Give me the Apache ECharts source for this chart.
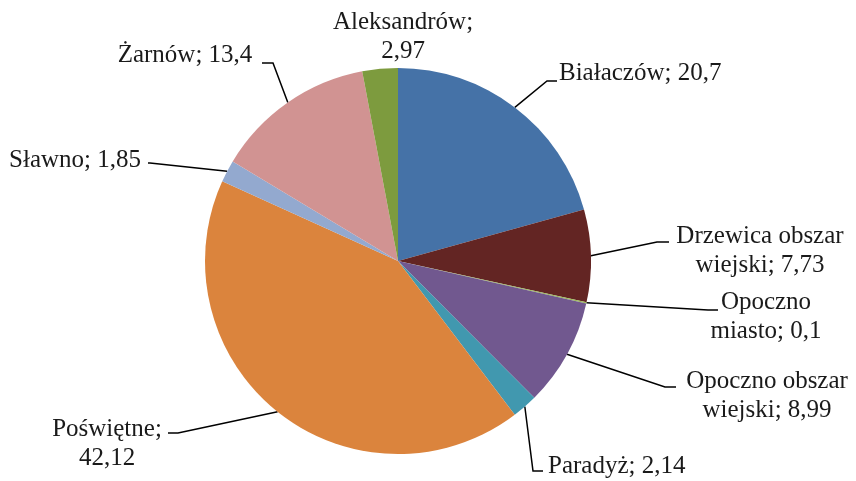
<!DOCTYPE html>
<html><head><meta charset="utf-8">
<script src="https://cdn.jsdelivr.net/npm/echarts@6/dist/echarts.min.js"></script>
<style>html,body{margin:0;padding:0;background:#fff}#c{width:856px;height:481px}</style>
</head><body><div id="c"></div>
<script>
const categories = ['Białaczów', 'Drzewica obszar\nwiejski', 'Opoczno\nmiasto', 'Opoczno obszar\nwiejski', 'Paradyż', 'Poświętne;\n', 'Sławno', 'Żarnów', 'Aleksandrów;\n'];
const names = ['Białaczów', 'Drzewica obszar wiejski', 'Opoczno miasto', 'Opoczno obszar wiejski', 'Paradyż', 'Poświętne', 'Sławno', 'Żarnów', 'Aleksandrów'];
const values = [20.7, 7.73, 0.1, 8.99, 2.14, 42.12, 1.85, 13.4, 2.97];
const colors = ['#4572A7', '#632523', '#9BBB59', '#71588F', '#4198AF', '#DB843D', '#93A9CF', '#D19392', '#7D9B3E'];

// label placement: [x, y, align, bend point x, bend y, end x]
const labelPos = [
  [559, 73, 'left', 547, 81, 557],
  [760, 251, 'center', 657, 242, 669],
  [766, 317, 'center', 708, 310, 718],
  [767, 396, 'center', 665, 387, 676],
  [548, 466, 'left', 533, 471, 543],
  [107, 444, 'center', 178, 433, 168],
  [75, 160, 'center', 150, 163, 148],
  [185, 55, 'center', 273, 63, 262],
  [403, 37, 'center', null, null, null]
];

function fmt(v){ return String(v).replace('.', ','); }

const chart = echarts.init(document.getElementById('c'));
chart.setOption({
  animation: false,
  series: [{
    type: 'pie',
    center: [398, 261],
    radius: 193,
    startAngle: 90,
    clockwise: true,
    data: names.map((n, i) => ({name: n, value: values[i], itemStyle: {color: colors[i]}})),
    label: {
      show: true,
      color: '#1a1a1a',
      fontFamily: 'Liberation Serif',
      fontSize: 25,
      lineHeight: 29,
      formatter: p => {
        const c = categories[p.dataIndex];
        if (c.endsWith(';\n')) return c + fmt(p.value);
        return c + '; ' + fmt(p.value);
      }
    },
    labelLine: {show: true, lineStyle: {color: '#000', width: 1.5}},
    labelLayout: function (params) {
      const lp = labelPos[params.dataIndex];
      const p0 = params.labelLinePoints ? params.labelLinePoints[0] : [0, 0];
      const out = {x: lp[0], y: lp[1], align: lp[2], verticalAlign: 'middle'};
      if (lp[3] == null) {
        out.labelLinePoints = [p0, p0, p0];
      } else {
        out.labelLinePoints = [p0, [lp[3], lp[4]], [lp[5], lp[4]]];
      }
      return out;
    }
  }]
});
</script></body></html>
